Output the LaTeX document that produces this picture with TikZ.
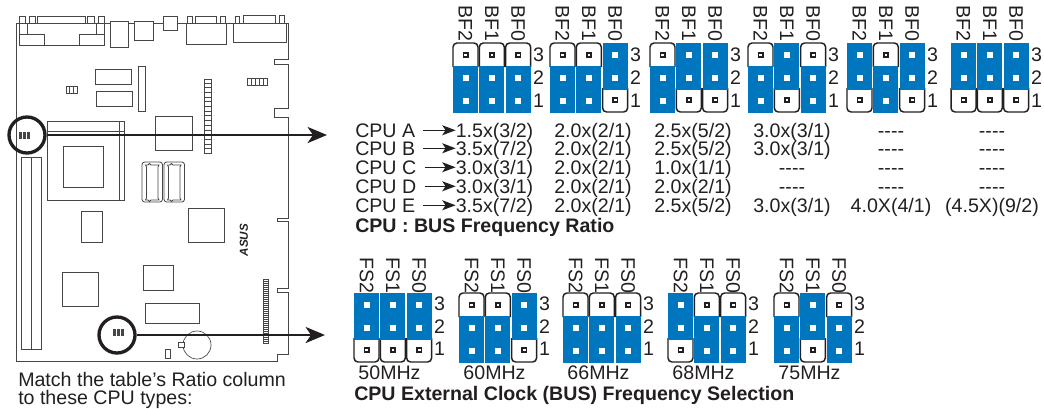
\documentclass[tikz,border=0pt]{standalone}
\usepackage{fontspec}
\setmainfont{Liberation Sans}
\usetikzlibrary{arrows.meta}
\definecolor{jblue}{RGB}{0,118,190}
\definecolor{ink}{RGB}{35,31,32}
\definecolor{brd}{RGB}{70,70,70}
\tikzset{
  lab/.style={inner sep=0pt,text=ink,font=\fontsize{14.7}{16}\selectfont},
  boldlab/.style={lab,font=\fontsize{14.7}{16}\selectfont\bfseries},
  rotlab/.style={lab,rotate=-90,anchor=west},
  part/.style={draw=brd,line width=0.75pt},
  capline/.style={draw=ink,line width=1.1pt,rounded corners=3pt},
  ring/.style={circle,draw=ink,line width=2.5pt,minimum size=27pt,inner sep=0pt},
  bigarrow/.style={draw=ink,line width=2.2pt,-{Stealth[length=14.5pt,width=12pt,inset=4pt]}},
  tarrow/.style={draw=ink,line width=1.1pt,-{Stealth[length=10pt,width=7.5pt,inset=2.5pt]}}
}
\newcommand{\bluepin}[1]{\fill[white] (9.7,#1-3) rectangle (15.5,#1+3);}
\newcommand{\capin}[1]{\fill[ink] (9.7,#1-3) rectangle (15.7,#1+3);\fill[white] (11.4,#1-1.3) rectangle (14,#1+1.3);}
\newcommand{\jc}[3]{\begin{scope}[shift={({#1},#2)}]
  \ifnum#3=0
    \draw[capline] (0,24) -- (0,0) -- (25,0) -- (25,24);
    \fill[jblue] (0,23) rectangle (25,69.5);
    \capin{12}\bluepin{35}\bluepin{58}
  \else
    \draw[capline] (0,45) -- (0,69) -- (25,69) -- (25,45);
    \fill[jblue] (0,-0.5) rectangle (25,47);
    \bluepin{12}\bluepin{35}\capin{57}
  \fi
\end{scope}}
\newcommand{\rowt}[8]{%
  \node[lab,anchor=base west] (cpu#1) at (355,#2) {CPU #1};
  \node[lab,anchor=base] (r#1a) at (494.5,#2) {#3};
  \node[lab,anchor=base] (r#1b) at (593,#2) {#4};
  \node[lab,anchor=base] (r#1c) at (693,#2) {#5};
  \node[lab,anchor=base] (r#1d) at (792,#2) {#6};
  \node[lab,anchor=base] (r#1e) at (891,#2) {#7};
  \node[lab,anchor=base] (r#1f) at (992,#2) {#8};
  \draw[tarrow,shorten <=6pt] (cpu#1.east) -- (cpu#1.east -| r#1a.west);
}
\newcommand{\dsh}{-{}-{}-{}-}
\begin{document}
\begin{tikzpicture}[x=0.75pt,y=-0.75pt]
\useasboundingbox (0,0) rectangle (1044,408);
% board outline
\draw[part] (16,23) -- (288,23) -- (288,59) -- (274,59) -- (274,64) -- (288,64) -- (288,108) -- (274,108) -- (274,117) -- (288,117) -- (288,218) -- (277,218) -- (277,221) -- (288,221) -- (288,288) -- (277,288) -- (277,292) -- (288,292) -- (288,354) -- (277,354) -- (277,361) -- (16,361) -- cycle;
% board parts
\foreach \a/\b/\c/\d in {19/23/104/45,19/34/44/45,79/34/104/45,19/16/25/23,29/16/35/23,37/16/85/23,87/16/94/23,98/16/104/23,
  110/21/128/47,134/21/153/40,163/16/177/30,186/23/226/44,187/16/192/23,195/16/216/23,220/16/225/23,
  233/23/286/42,235/16/239/23,243/15/275/23,279/15/284/23,
  95/69/131/84,96/91/132/106,138/66/145/111,155/116/192/150,
  47/121/124/200,63/146/103/187,21/157/31/349,31/157/41/349,
  81/211/102/242,188/208/224/242,143/265/173/290,62/272/98/306,145/303/199/323,165/349/170/358}
  {\draw[part,fill=white] (\a,\b) rectangle (\c,\d);}
\draw[part] (27,23) -- (27,34) (96,23) -- (96,34);
\draw[part] (47,131) -- (124,131) (119,121) -- (119,200);
% small headers
\draw[part] (66,86) rectangle (77,93) (69.7,86) -- (69.7,93) (73.3,86) -- (73.3,93);
\draw[part] (247,78) rectangle (267,85) (251,78) -- (251,85) (255,78) -- (255,85) (259,78) -- (259,85) (263,78) -- (263,85);
% combs
\draw[part] (204,79) rectangle (211,153);
\foreach \k in {83,87.7,...,150} {\draw[part] (204,\k) -- (211,\k);}
\draw[part,line width=0.5pt] (263,279) rectangle (268,343);
\foreach \k in {281,283,...,342} {\draw[part,line width=0.5pt] (263,\k) -- (268,\k);}
% socket connectors
\foreach \q in {142,164} {
  \draw[part,line width=0.6pt,rounded corners=2pt] (\q,162) rectangle ({\q+20.5},202);
  \draw[part,line width=0.6pt] ({\q+3.5},165) -- ({\q+6},165) -- ({\q+7.5},163.5) -- ({\q+9},165) -- ({\q+17},165) -- ({\q+16},167) -- ({\q+16},198) -- ({\q+17},200) -- ({\q+9},200) -- ({\q+7.5},201.5) -- ({\q+6},200) -- ({\q+3.5},200) -- ({\q+4.5},198) -- ({\q+4.5},167) -- cycle;
}
% battery
\draw[part,line width=0.5pt] (197,345) circle (14);
\draw[part,fill=white] (178,342) rectangle (184,347);
% logo
\node[lab,font=\fontsize{8.7}{9}\selectfont\bfseries\itshape,rotate=90] (asus) at (244,240) {ASUS};
% circled jumpers
\fill[brd] (19,132) rectangle (30,139);
\draw[white,line width=0.4pt] (22.7,132) -- (22.7,139) (26.3,132) -- (26.3,139);
\fill[brd] (113,329) rectangle (124,336);
\draw[white,line width=0.4pt] (116.7,329) -- (116.7,336) (120.3,329) -- (120.3,336);
\node[ring] (ringa) at (27,135) {};
\node[ring] (ringb) at (117,335) {};
\coordinate (enda) at (327,135);
\coordinate (endb) at (325,335);
\draw[bigarrow] (ringa) -- (enda);
\draw[bigarrow] (ringb) -- (endb);
% BF jumpers
\foreach \gx/\sa/\sb/\sc [count=\g] in {453/0/0/0,550/0/0/1,650/0/1/1,748/0/1/0,847/1/0/1,951/1/1/1} {
  \jc{\gx}{43}{\sa}
  \jc{\gx+26.3}{43}{\sb}
  \jc{\gx+52.6}{43}{\sc}
  \node[rotlab] (bfa\g) at ({\gx+12.5},5) {BF2};
  \node[rotlab] (bfb\g) at ({\gx+38.8},5) {BF1};
  \node[rotlab] (bfc\g) at ({\gx+65.1},5) {BF0};
  \node[lab] (bfn\g) at ({\gx+85.5},55) {3};
  \node[lab] (bfm\g) at ({\gx+85.5},78) {2};
  \node[lab] (bfl\g) at ({\gx+85.5},101) {1};
}
% FS jumpers
\foreach \gx/\sa/\sb/\sc/\hz [count=\g] in {354/1/1/1/50MHz,459/0/0/1/60MHz,563/0/0/0/66MHz,668/1/0/0/68MHz,774/0/1/0/75MHz} {
  \jc{\gx}{293}{\sa}
  \jc{\gx+26.3}{293}{\sb}
  \jc{\gx+52.6}{293}{\sc}
  \node[rotlab] (fsa\g) at ({\gx+12.5},257) {FS2};
  \node[rotlab] (fsb\g) at ({\gx+38.8},257) {FS1};
  \node[rotlab] (fsc\g) at ({\gx+65.1},257) {FS0};
  \node[lab] (fsn\g) at ({\gx+85.5},304) {3};
  \node[lab] (fsm\g) at ({\gx+85.5},327) {2};
  \node[lab] (fsl\g) at ({\gx+85.5},349) {1};
  \node[lab,anchor=base] (hz\g) at ({\gx+35.5},379) {\hz};
}
% ratio table
\rowt{A}{137}{1.5x(3/2)}{2.0x(2/1)}{2.5x(5/2)}{3.0x(3/1)}{\dsh}{\dsh}
\rowt{B}{155}{3.5x(7/2)}{2.0x(2/1)}{2.5x(5/2)}{3.0x(3/1)}{\dsh}{\dsh}
\rowt{C}{174}{3.0x(3/1)}{2.0x(2/1)}{1.0x(1/1)}{\dsh}{\dsh}{\dsh}
\rowt{D}{193}{3.0x(3/1)}{2.0x(2/1)}{2.0x(2/1)}{\dsh}{\dsh}{\dsh}
\rowt{E}{212}{3.5x(7/2)}{2.0x(2/1)}{2.5x(5/2)}{3.0x(3/1)}{4.0X(4/1)}{(4.5X)(9/2)}
\node[boldlab,anchor=base west] (ratiotitle) at (355,232) {CPU : BUS Frequency Ratio};
\node[boldlab,anchor=base west] (clocktitle) at (354,400) {CPU External Clock (BUS) Frequency Selection};
\node[lab,anchor=base west] (matcha) at (18,386) {Match the table’s Ratio column};
\node[lab,anchor=base west] (matchb) at (18,404) {to these CPU types:};
\end{tikzpicture}
\end{document}
